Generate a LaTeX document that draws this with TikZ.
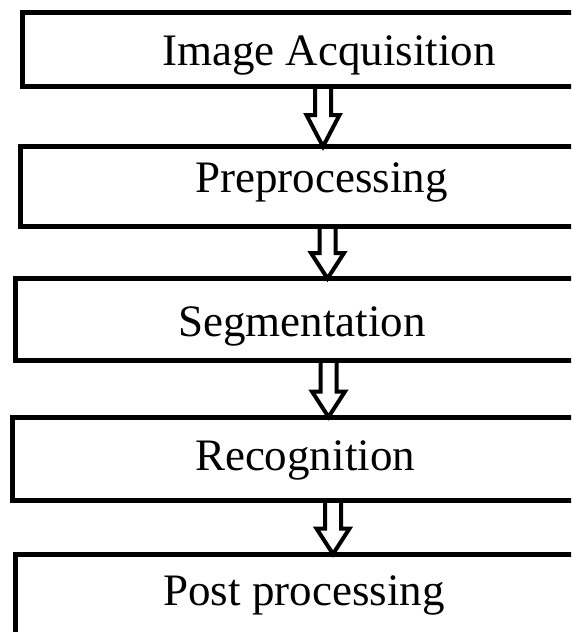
\documentclass[tikz,border=0pt]{standalone}
\usepackage{fontspec}
\setmainfont{Liberation Serif}
\usetikzlibrary{calc}

\tikzset{
  stagebox/.style={draw, line width=5pt, rectangle, outer sep=0pt, inner sep=0pt, anchor=north west},
  stagetext/.style={anchor=base, inner sep=0pt, font=\fontsize{45}{54}\selectfont},
  hollowline/.style={draw, line width=4pt, line join=miter, miter limit=10},
}

% hollow block arrow: from node, to node, centre x, y of the head's base
\newcommand\hollowarrow[4]{%
  \path[hollowline] let \p1=(#1.south), \p2=(#2.north) in
    (#3-8,\y1) -- (#3-8,#4) -- (#3-16.5,#4) -- (#3,\y2) --
    (#3+16.5,#4) -- (#3+8,#4) -- (#3+8,\y1);
}

\begin{document}
\begin{tikzpicture}[x=1pt,y=-1pt]
  \useasboundingbox (0,0) rectangle (571,632);
  \clip (0,0) rectangle (571,632);

  % stage boxes (they run past the right edge)
  \node[stagebox, minimum width=597.5pt, minimum height=74pt] (b1) at (22.5,12.5) {};
  \node[stagebox, minimum width=599.5pt, minimum height=80pt] (b2) at (20.5,146.5) {};
  \node[stagebox, minimum width=604.5pt, minimum height=82pt] (b3) at (15.5,278.5) {};
  \node[stagebox, minimum width=607.5pt, minimum height=83pt] (b4) at (12.5,417) {};
  \node[stagebox, minimum width=604.5pt, minimum height=110pt] (b5) at (15.5,554) {};

  % stage names
  \node[stagetext] (t1) at (329,65) {Image Acquisition};
  \node[stagetext] (t2) at (321.5,192.7) {Preprocessing};
  \node[stagetext] (t3) at (302,336.5) {Segmentation};
  \node[stagetext] (t4) at (305,470.5) {Recognition};
  \node[stagetext] (t5) at (304,605) {Post processing};

  % flow arrows
  \hollowarrow{b1}{b2}{323}{115}
  \hollowarrow{b2}{b3}{327.5}{253}
  \hollowarrow{b3}{b4}{328.5}{391.5}
  \hollowarrow{b4}{b5}{333}{528.5}
\end{tikzpicture}
\end{document}
